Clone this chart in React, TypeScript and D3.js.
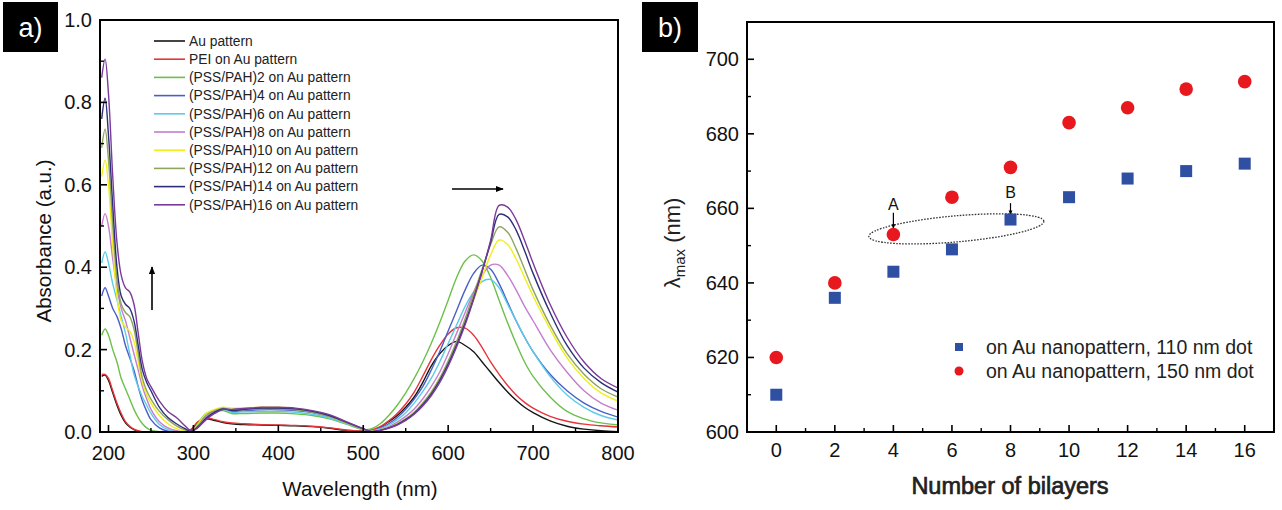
import React from "react";
import * as d3 from "d3";

// ---------- Panel a data ----------
const wavelengths = [
  192, 196, 200, 205, 210, 215, 220, 225, 230, 235, 240, 245, 250, 260, 270, 280, 290,
  298, 305, 315, 325, 335, 345, 360, 380, 400, 420, 440, 460, 480, 500,
  510, 520, 530, 540, 550, 560, 570, 580, 590, 600, 610, 620, 630, 640, 650, 660, 670, 680, 690, 700, 720, 740, 760, 780, 800,
];

const seriesNames = [
  "Au pattern",
  "PEI on Au pattern",
  "(PSS/PAH)2 on Au pattern",
  "(PSS/PAH)4 on Au pattern",
  "(PSS/PAH)6 on Au pattern",
  "(PSS/PAH)8 on Au pattern",
  "(PSS/PAH)10 on Au pattern",
  "(PSS/PAH)12 on Au pattern",
  "(PSS/PAH)14 on Au pattern",
  "(PSS/PAH)16 on Au pattern",
];

const seriesColors = [
  "#151515", "#e6343a", "#6cc04a", "#4a5ec8", "#5ccbe8",
  "#c47dcf", "#f0ee1c", "#8ea55e", "#2e2f7a", "#7a3a9a",
];

const auPattern = [
  0.135, 0.138, 0.125, 0.095, 0.065, 0.04, 0.022, 0.012, 0.006, 0.002, 0, 0, 0, 0, 0, 0, 0,
  0.006, 0.022, 0.032, 0.028, 0.023, 0.02, 0.018, 0.017, 0.016, 0.015, 0.013, 0.009, 0.004, 0.002,
  0.004, 0.012, 0.025, 0.04, 0.06, 0.085, 0.12, 0.16, 0.19, 0.21, 0.22, 0.21, 0.195, 0.17, 0.145, 0.12, 0.097, 0.077, 0.06, 0.047, 0.027, 0.014, 0.007, 0.003, 0.001,
];
const peiAu = [
  0.14, 0.14, 0.13, 0.1, 0.07, 0.045, 0.025, 0.014, 0.007, 0.003, 0.001, 0, 0, 0, 0, 0, 0,
  0.008, 0.025, 0.034, 0.03, 0.025, 0.022, 0.02, 0.018, 0.017, 0.016, 0.014, 0.01, 0.005, 0.002,
  0.005, 0.013, 0.027, 0.045, 0.068, 0.097, 0.135, 0.175, 0.21, 0.238, 0.253, 0.252, 0.235, 0.205, 0.17, 0.14, 0.113, 0.09, 0.072, 0.058, 0.038, 0.026, 0.019, 0.015, 0.012,
];
const bl2 = [
  0.235, 0.25, 0.235, 0.2, 0.17, 0.13, 0.105, 0.08, 0.055, 0.035, 0.02, 0.01, 0.004, 0.001, 0, 0, 0,
  0.003, 0.02, 0.045, 0.05, 0.052, 0.045, 0.045, 0.046, 0.046, 0.044, 0.04, 0.032, 0.019, 0.006,
  0.008, 0.02, 0.04, 0.065, 0.095, 0.13, 0.17, 0.215, 0.265, 0.32, 0.375, 0.415, 0.43, 0.415, 0.375, 0.32, 0.265, 0.215, 0.17, 0.135, 0.085, 0.05, 0.032, 0.022, 0.017,
];
const bl4 = [
  0.33, 0.35, 0.33, 0.3, 0.28, 0.25, 0.21, 0.18, 0.15, 0.11, 0.075, 0.05, 0.03, 0.01, 0.002, 0, 0,
  0.002, 0.012, 0.035, 0.048, 0.055, 0.05, 0.052, 0.054, 0.054, 0.052, 0.047, 0.037, 0.022, 0.007,
  0.003, 0.01, 0.02, 0.035, 0.055, 0.08, 0.11, 0.15, 0.195, 0.245, 0.295, 0.345, 0.385, 0.405, 0.395, 0.36, 0.315, 0.27, 0.23, 0.195, 0.14, 0.1, 0.07, 0.05, 0.036,
];
const bl6 = [
  0.41, 0.437, 0.41, 0.36, 0.32, 0.28, 0.24, 0.19, 0.14, 0.11, 0.085, 0.065, 0.045, 0.018, 0.006, 0.001, 0,
  0.001, 0.015, 0.04, 0.05, 0.055, 0.048, 0.049, 0.05, 0.05, 0.048, 0.043, 0.034, 0.02, 0.006,
  0.003, 0.008, 0.017, 0.03, 0.047, 0.07, 0.098, 0.13, 0.17, 0.215, 0.26, 0.305, 0.34, 0.365, 0.37, 0.35, 0.31, 0.27, 0.23, 0.195, 0.135, 0.09, 0.06, 0.04, 0.029,
];
const bl8 = [
  0.5, 0.53, 0.5, 0.42, 0.35, 0.3, 0.27, 0.23, 0.19, 0.15, 0.11, 0.08, 0.055, 0.025, 0.01, 0.003, 0,
  0.001, 0.014, 0.038, 0.05, 0.056, 0.054, 0.055, 0.057, 0.057, 0.055, 0.049, 0.039, 0.023, 0.007,
  0.002, 0.006, 0.013, 0.024, 0.038, 0.056, 0.08, 0.11, 0.145, 0.19, 0.24, 0.29, 0.34, 0.38, 0.405, 0.405, 0.38, 0.345, 0.305, 0.27, 0.2, 0.145, 0.1, 0.07, 0.053,
];
const bl10 = [
  0.62, 0.66, 0.6, 0.45, 0.33, 0.27, 0.255, 0.245, 0.22, 0.17, 0.12, 0.09, 0.07, 0.04, 0.02, 0.008, 0.002,
  0.001, 0.018, 0.045, 0.055, 0.06, 0.058, 0.059, 0.06, 0.06, 0.057, 0.05, 0.038, 0.022, 0.007,
  0.002, 0.005, 0.011, 0.02, 0.032, 0.048, 0.07, 0.097, 0.13, 0.17, 0.215, 0.265, 0.32, 0.375, 0.43, 0.466, 0.455, 0.42, 0.375, 0.33, 0.25, 0.18, 0.13, 0.095, 0.075,
];
const bl12 = [
  0.69, 0.735, 0.66, 0.5, 0.37, 0.31, 0.29, 0.28, 0.25, 0.19, 0.13, 0.1, 0.08, 0.05, 0.03, 0.015, 0.005,
  0.001, 0.015, 0.04, 0.052, 0.058, 0.053, 0.054, 0.056, 0.056, 0.054, 0.048, 0.038, 0.022, 0.007,
  0.002, 0.005, 0.011, 0.02, 0.032, 0.048, 0.07, 0.097, 0.13, 0.172, 0.22, 0.275, 0.335, 0.395, 0.455, 0.498, 0.485, 0.445, 0.395, 0.345, 0.26, 0.19, 0.14, 0.105, 0.085,
];
const bl14 = [
  0.76, 0.81, 0.72, 0.55, 0.4, 0.33, 0.31, 0.3, 0.27, 0.21, 0.15, 0.12, 0.1, 0.06, 0.035, 0.02, 0.008,
  0.002, 0.012, 0.033, 0.048, 0.056, 0.052, 0.055, 0.058, 0.058, 0.056, 0.05, 0.04, 0.024, 0.008,
  0.001, 0.004, 0.01, 0.018, 0.03, 0.045, 0.066, 0.092, 0.125, 0.165, 0.212, 0.265, 0.325, 0.39, 0.46, 0.528, 0.522, 0.49, 0.44, 0.385, 0.29, 0.21, 0.155, 0.12, 0.097,
];
const bl16 = [
  0.86, 0.905, 0.82, 0.62, 0.46, 0.38, 0.35, 0.34, 0.31, 0.24, 0.17, 0.13, 0.11, 0.075, 0.05, 0.035, 0.015,
  0.002, 0.01, 0.03, 0.045, 0.055, 0.055, 0.057, 0.06, 0.06, 0.058, 0.052, 0.042, 0.025, 0.008,
  0.001, 0.004, 0.009, 0.017, 0.028, 0.043, 0.063, 0.088, 0.12, 0.16, 0.207, 0.26, 0.322, 0.39, 0.465, 0.55, 0.546, 0.515, 0.465, 0.41, 0.31, 0.23, 0.17, 0.13, 0.107,
];
const absorbance = [auPattern, peiAu, bl2, bl4, bl6, bl8, bl10, bl12, bl14, bl16];

const xTicksA = [200, 300, 400, 500, 600, 700, 800];
const yTicksA = [0, 0.2, 0.4, 0.6, 0.8, 1.0];

// ---------- Panel b data ----------
const bilayers = [0, 2, 4, 6, 8, 10, 12, 14, 16];
const lambda110 = [610, 636, 643, 649, 657, 663, 668, 670, 672];
const lambda150 = [620, 640, 653, 663, 671, 683, 687, 692, 694];
const xTicksB = [0, 2, 4, 6, 8, 10, 12, 14, 16];
const yTicksB = [600, 620, 640, 660, 680, 700];
const legendB = ["on Au nanopattern, 110 nm dot", "on Au nanopattern, 150 nm dot"];

const FONT = "'Liberation Sans', Arial, sans-serif";

export default function App() {
  // Panel a
  const xa = d3.scaleLinear().domain([190, 800]).range([100, 618]);
  const ya = d3.scaleLinear().domain([0, 1]).range([432, 20]);
  const line = d3
    .line<number>()
    .x((_, i) => xa(wavelengths[i]))
    .y((d) => ya(Math.max(0, d)))
    .curve(d3.curveCatmullRom.alpha(0.5));
  const xMinorA = d3.range(250, 800, 100);
  const yMinorA = d3.range(0.1, 1.0, 0.2);

  // Panel b
  const xb = d3.scaleLinear().domain([-1, 17]).range([747, 1274]);
  const yb = d3.scaleLinear().domain([600, 710]).range([432, 22]);
  const xMinorB = d3.range(1, 17, 2);
  const yMinorB = d3.range(610, 710, 20);

  const blue = "#2f4fa3";
  const red = "#e8191e";

  const ecx = xb(6.15);
  const ecy = yb(654.5);
  const erx = xb(9.15) - xb(6.15);
  const ery = yb(651) - yb(654.5);

  return (
    <svg
      width={1282}
      height={510}
      style={{ position: "absolute", left: 0, top: 0, background: "#fff" }}
      fontFamily={FONT}
    >
      <rect x={0} y={0} width={1282} height={510} fill="#fff" />

      {/* ---------------- Panel a ---------------- */}
      <rect x={3} y={2} width={55} height={50} fill="#000" />
      <text x={30.5} y={37} fill="#fff" fontSize={27} textAnchor="middle">a)</text>

      <defs>
        <clipPath id="clipA">
          <rect x={100} y={20} width={518} height={412} />
        </clipPath>
      </defs>
      <g clipPath="url(#clipA)">
        {absorbance.map((s, i) => (
          <path key={i} d={line(s) || ""} fill="none" stroke={seriesColors[i]} strokeWidth={1.4} />
        ))}
      </g>

      <rect x={100} y={20} width={518} height={412} fill="none" stroke="#000" strokeWidth={2} />

      {xTicksA.map((t) => (
        <g key={"xa" + t}>
          <line x1={xa(t)} x2={xa(t)} y1={432} y2={425} stroke="#000" strokeWidth={1.6} />
          <text x={xa(t)} y={460} fontSize={20} textAnchor="middle" fill="#111">{t}</text>
        </g>
      ))}
      {xMinorA.map((t) => (
        <line key={"xma" + t} x1={xa(t)} x2={xa(t)} y1={432} y2={428} stroke="#000" strokeWidth={1.4} />
      ))}
      {yTicksA.map((t) => (
        <g key={"ya" + t}>
          <line x1={100} x2={107} y1={ya(t)} y2={ya(t)} stroke="#000" strokeWidth={1.6} />
          <text x={92} y={ya(t) + 7} fontSize={20} textAnchor="end" fill="#111">{t.toFixed(1)}</text>
        </g>
      ))}
      {yMinorA.map((t) => (
        <line key={"yma" + t} x1={100} x2={104} y1={ya(t)} y2={ya(t)} stroke="#000" strokeWidth={1.4} />
      ))}

      <text x={360} y={496} fontSize={20.5} textAnchor="middle" fill="#111">Wavelength (nm)</text>
      <text
        transform={`translate(51,241) rotate(-90)`}
        fontSize={20.5}
        textAnchor="middle"
        fill="#111"
      >
        Absorbance (a.u.)
      </text>

      {/* legend a */}
      {seriesNames.map((n, i) => (
        <g key={"lg" + i}>
          <line x1={154} x2={185} y1={41 + i * 18.2} y2={41 + i * 18.2} stroke={seriesColors[i]} strokeWidth={1.6} />
          <text x={189} y={41 + i * 18.2 + 4.8} fontSize={13.8} fill="#222">{n}</text>
        </g>
      ))}

      {/* arrows a */}
      <defs>
        <marker id="ah" viewBox="0 0 10 10" refX="9" refY="5" markerWidth="5" markerHeight="5" orient="auto">
          <path d="M0,1 L10,5 L0,9 Z" fill="#000" />
        </marker>
        <marker id="ah2" viewBox="0 0 10 10" refX="9" refY="5" markerWidth="4" markerHeight="4" orient="auto">
          <path d="M0,1 L10,5 L0,9 Z" fill="#000" />
        </marker>
      </defs>
      <line x1={152} x2={152} y1={310} y2={267} stroke="#000" strokeWidth={1.6} markerEnd="url(#ah)" />
      <line x1={452} x2={503} y1={189} y2={189} stroke="#000" strokeWidth={1.6} markerEnd="url(#ah)" />

      {/* ---------------- Panel b ---------------- */}
      <rect x={642} y={2} width={56} height={50} fill="#000" />
      <text x={670} y={37} fill="#fff" fontSize={27} textAnchor="middle">b)</text>

      <rect x={747} y={22} width={527} height={410} fill="none" stroke="#000" strokeWidth={2} />

      {xTicksB.map((t) => (
        <g key={"xb" + t}>
          <line x1={xb(t)} x2={xb(t)} y1={432} y2={425} stroke="#000" strokeWidth={1.6} />
          <text x={xb(t)} y={457} fontSize={20} textAnchor="middle" fill="#111">{t}</text>
        </g>
      ))}
      {xMinorB.map((t) => (
        <line key={"xmb" + t} x1={xb(t)} x2={xb(t)} y1={432} y2={428} stroke="#000" strokeWidth={1.4} />
      ))}
      {yTicksB.map((t) => (
        <g key={"yb" + t}>
          <line x1={747} x2={754} y1={yb(t)} y2={yb(t)} stroke="#000" strokeWidth={1.6} />
          <text x={739} y={yb(t) + 7} fontSize={20} textAnchor="end" fill="#111">{t}</text>
        </g>
      ))}
      {yMinorB.map((t) => (
        <line key={"ymb" + t} x1={747} x2={751} y1={yb(t)} y2={yb(t)} stroke="#000" strokeWidth={1.4} />
      ))}

      <text
        x={1010}
        y={494}
        fontSize={23.5}
        textAnchor="middle"
        fill="#222"
        stroke="#222"
        strokeWidth={0.7}
      >
        Number of bilayers
      </text>
      <text transform={`translate(680,243) rotate(-90)`} fontSize={22} textAnchor="middle" fill="#222">
        λ<tspan fontSize={15} dy={5}>max</tspan>
        <tspan dy={-5}> (nm)</tspan>
      </text>

      {/* annotation ellipse */}
      <ellipse
        cx={ecx}
        cy={ecy}
        rx={erx}
        ry={ery}
        transform={`rotate(-5 ${ecx} ${ecy})`}
        fill="none"
        stroke="#333"
        strokeWidth={1.3}
        strokeDasharray="1.6,1.4"
      />
      <text x={xb(4)} y={yb(661.2) + 6} fontSize={16} textAnchor="middle" fill="#111">A</text>
      <line x1={xb(4)} x2={xb(4)} y1={yb(658.8)} y2={yb(654.6)} stroke="#000" strokeWidth={1.2} markerEnd="url(#ah2)" />
      <text x={xb(8)} y={yb(664.4) + 6} fontSize={16} textAnchor="middle" fill="#111">B</text>
      <line x1={xb(8)} x2={xb(8)} y1={yb(661.4)} y2={yb(658.3)} stroke="#000" strokeWidth={1.2} markerEnd="url(#ah2)" />

      {/* markers */}
      {bilayers.map((b, i) => (
        <rect key={"sq" + b} x={xb(b) - 6} y={yb(lambda110[i]) - 6} width={12} height={12} fill={blue} />
      ))}
      {bilayers.map((b, i) => (
        <circle key={"ci" + b} cx={xb(b)} cy={yb(lambda150[i])} r={6.8} fill={red} />
      ))}

      {/* legend b */}
      <rect x={955} y={343} width={8} height={8} fill={blue} />
      <text x={986} y={354} fontSize={19.5} fill="#222">{legendB[0]}</text>
      <circle cx={959} cy={371} r={4.5} fill={red} />
      <text x={986} y={378} fontSize={19.5} fill="#222">{legendB[1]}</text>
    </svg>
  );
}
